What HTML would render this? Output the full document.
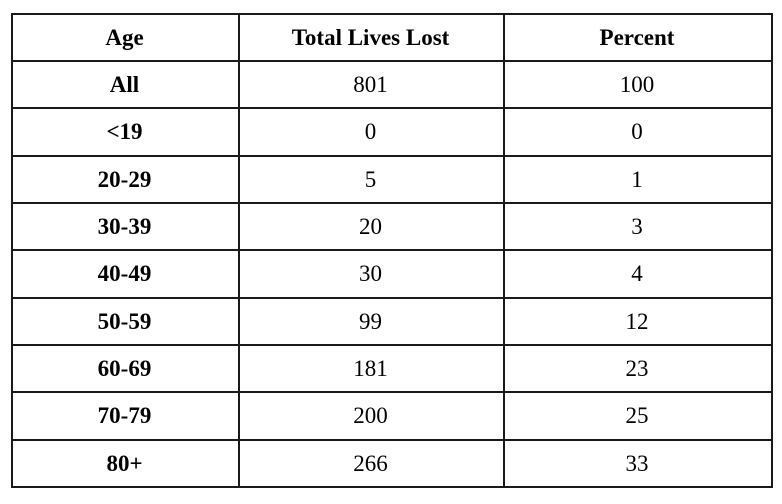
<!DOCTYPE html><html><head><style>
body{margin:0;background:#fff;width:782px;height:504px;position:relative;font-family:"Liberation Serif",serif;color:#000}
.r{position:absolute;left:11px;width:762px;height:2px;background:#1a1a1a}
.v{position:absolute;top:13px;width:2px;height:475px;background:#1a1a1a}
.row{position:absolute;left:0;height:47px;width:782px}
.row div{position:absolute;top:0;text-align:center;font-size:23px;line-height:47px}
.c1{left:11px;width:227px;font-weight:bold}
.c2{left:238px;width:265px}
.c3{left:503px;width:268px}
.hd div{font-weight:bold}
</style></head><body>
<div class="r" style="top:13px"></div>
<div class="r" style="top:60px"></div>
<div class="r" style="top:107px"></div>
<div class="r" style="top:155px"></div>
<div class="r" style="top:202px"></div>
<div class="r" style="top:249px"></div>
<div class="r" style="top:297px"></div>
<div class="r" style="top:344px"></div>
<div class="r" style="top:391px"></div>
<div class="r" style="top:439px"></div>
<div class="r" style="top:486px"></div>
<div class="v" style="left:11px"></div>
<div class="v" style="left:238px"></div>
<div class="v" style="left:503px"></div>
<div class="v" style="left:771px"></div>
<div class="row hd" style="top:14px"><div class="c1">Age</div><div class="c2">Total Lives Lost</div><div class="c3">Percent</div></div>
<div class="row" style="top:61px"><div class="c1">All</div><div class="c2">801</div><div class="c3">100</div></div>
<div class="row" style="top:108px"><div class="c1">&lt;19</div><div class="c2">0</div><div class="c3">0</div></div>
<div class="row" style="top:156px"><div class="c1">20-29</div><div class="c2">5</div><div class="c3">1</div></div>
<div class="row" style="top:203px"><div class="c1">30-39</div><div class="c2">20</div><div class="c3">3</div></div>
<div class="row" style="top:250px"><div class="c1">40-49</div><div class="c2">30</div><div class="c3">4</div></div>
<div class="row" style="top:298px"><div class="c1">50-59</div><div class="c2">99</div><div class="c3">12</div></div>
<div class="row" style="top:345px"><div class="c1">60-69</div><div class="c2">181</div><div class="c3">23</div></div>
<div class="row" style="top:392px"><div class="c1">70-79</div><div class="c2">200</div><div class="c3">25</div></div>
<div class="row" style="top:440px"><div class="c1">80+</div><div class="c2">266</div><div class="c3">33</div></div>
</body></html>
